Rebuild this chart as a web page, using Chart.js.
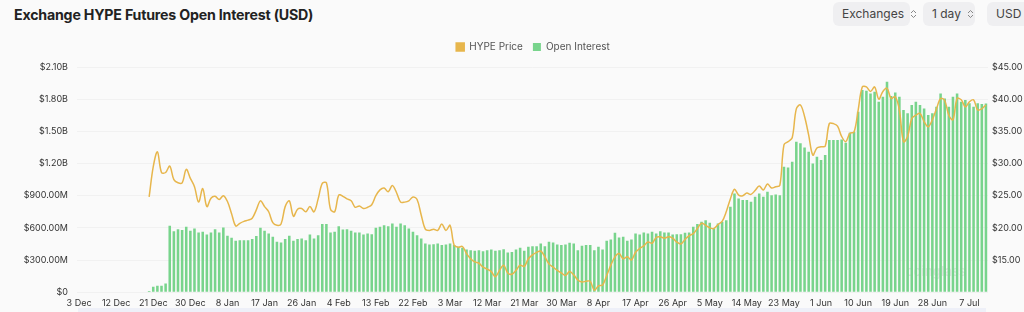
<!DOCTYPE html>
<html>
<head>
<meta charset="utf-8">
<script src="https://cdn.jsdelivr.net/npm/chart.js@4"></script>
<style>
  html, body { margin: 0; padding: 0; background: #fafafa; }
  body { width: 1024px; height: 312px; position: relative; overflow: hidden; font-family: Inter, 'Noto Sans', sans-serif; }
  .titulo { position: absolute; left: 14px; top: 6px; font-size: 14.2px; font-weight: 700; color: #222; letter-spacing: -0.2px; }
  .botao { position: absolute; top: 2px; height: 24px; background: #efeff1; border-radius: 6px; font-size: 12px; color: #444; line-height: 24px; padding-left: 9px; box-sizing: border-box; white-space: nowrap; }
  .botao svg { vertical-align: middle; margin-left: 6px; margin-top: -2px; }
  .faixa { position: absolute; left: 78px; width: 908px; top: 308px; height: 4px; background: #eef0f8; z-index: 2; }
  #wrap { position: absolute; left: 0; top: 32px; width: 1024px; height: 287px; }
</style>
</head>
<body>
<div class="titulo">Exchange HYPE Futures Open Interest (USD)</div>
<div class="botao" style="left:833px;width:77px">Exchanges<svg width="7" height="10" viewBox="0 0 7 10"><path d="M1 4 L3.5 1.5 L6 4 M1 6 L3.5 8.5 L6 6" fill="none" stroke="#888" stroke-width="1"/></svg></div>
<div class="botao" style="left:923px;width:52px">1 day<svg width="7" height="10" viewBox="0 0 7 10"><path d="M1 4 L3.5 1.5 L6 4 M1 6 L3.5 8.5 L6 6" fill="none" stroke="#888" stroke-width="1"/></svg></div>
<div class="botao" style="left:987px;width:50px">USD<svg width="7" height="10" viewBox="0 0 7 10"><path d="M1 4 L3.5 1.5 L6 4 M1 6 L3.5 8.5 L6 6" fill="none" stroke="#888" stroke-width="1"/></svg></div>
<div id="wrap"><canvas id="grafico"></canvas></div>
<div class="faixa"></div>
<script>
// dias de 3 Dec 2024 ate 11 Jul 2025
const DATA_INICIO = new Date(2024, 11, 3);
const TOTAL_DIAS = 221;
const MESES = ['Jan', 'Feb', 'Mar', 'Apr', 'May', 'Jun', 'Jul', 'Aug', 'Sep', 'Oct', 'Nov', 'Dec'];
const PASSO_ROTULO = 9;

// open interest em milhoes de USD
const openInterest = [
  null, null, null, null, null, null, null, null, null, null, null, null, null, null, null, null, null,
  12, 50, 59, 59, 81,
  619, 569, 588, 579, 610, 572, 594, 557, 563, 538,
  557, 588, 557, 604, 526, 507, 479, 485, 485, 485,
  495, 523, 600, 572, 548, 516, 470, 464, 495, 526,
  479, 495, 501, 485, 538, 501, 532, 635, 635, 557,
  563, 616, 585, 588, 572, 557, 557, 538, 548, 541,
  600, 610, 625, 616, 641, 610, 641, 625, 594, 563,
  532, 501, 454, 445, 448, 454,
  439, 445, 454, 439, 423, 414, 398, 392, 386, 392,
  383, 392, 398, 386, 392, 401, 370, 376, 398, 414,
  386, 423, 429, 429, 454, 429, 470, 464, 445, 439,
  445, 460, 454, 392, 432, 439, 439, 392, 423, 398,
  479, 492, 554, 510, 516, 479, 492, 548, 538, 557,
  548, 563, 548, 569, 557, 557, 538, 541, 541, 554,
  557, 610, 635,
  656, 672, 647, 594, 641, 656, 672, 796, 921, 874,
  859, 859, 843, 890, 921, 890, 936, 905, 911, 905,
  1170, 1163, 1216, 1403, 1388, 1350, 1309, 1201, 1263, 1232,
  1279, 1419, 1419, 1419, 1425, 1394, 1487, 1496, 1683, 1885,
  1879, 1854, 1870, 1776, 1823, 1963, 1829, 1863, 1823, 1699,
  1668, 1745, 1776, 1745, 1714, 1652, 1668, 1730, 1854, 1807,
  1730, 1823, 1854, 1776, 1792, 1761, 1730, 1761, 1755, 1760
];

// preco HYPE em USD
const precoHype = [
  null, null, null, null, null, null, null, null, null, null, null, null, null, null, null, null, null,
  24.8, 29.5, 31.8, 28.6, 28.6,
  29.6, 27.5, 27.0, 27.0, 29.1, 27.7, 26.4, 24.0, 26.1, 23.3,
  24.6, 24.9, 24.4, 25.0, 24.1, 22.2, 20.3, 20.7, 21.0, 21.2,
  21.5, 22.8, 24.2, 23.3, 22.5, 20.8, 20.4, 20.6, 23.3, 24.2,
  21.8, 22.9, 23.0, 22.5, 23.3, 22.5, 24.5, 26.9, 27.0, 22.9,
  22.5, 25.1, 24.9, 24.5, 24.2, 23.2, 23.4, 23.0, 23.2, 23.6,
  25.0, 25.9, 26.2, 25.6, 26.6, 25.5, 24.0, 24.0, 24.2, 24.8,
  24.4, 22.0, 19.8, 19.6, 19.8, 19.6,
  20.6, 19.6, 20.4, 17.3, 17.0, 17.1, 16.0, 15.2, 14.7, 14.5,
  13.9, 13.6, 13.2, 12.4, 13.4, 14.2, 13.0, 12.8, 13.4, 14.2,
  14.0, 15.2, 15.8, 16.2, 16.4, 15.5, 14.4, 13.9, 13.4, 13.0,
  12.6, 13.2, 12.7, 11.9, 11.6, 11.7, 11.7, 10.3, 11.0, 11.1,
  12.6, 14.2, 15.5, 16.0, 15.2, 15.5, 15.0, 16.2, 16.8, 17.2,
  17.8, 17.6, 18.5, 18.6, 18.4, 18.6, 18.4, 17.8, 17.5, 18.2,
  18.8, 19.1, 19.9,
  20.7, 20.4, 20.0, 19.9, 20.5, 21.0, 22.5, 24.5, 26.0, 25.1,
  25.0, 25.4, 25.2, 25.8, 26.5, 25.9, 26.8, 26.2, 26.4, 26.6,
  32.9, 33.4, 34.0, 38.5, 39.1, 37.3, 34.4, 31.3, 32.4, 32.6,
  32.7, 36.2, 36.2, 35.8, 34.2, 33.4, 34.7, 34.9, 38.3, 41.9,
  41.9, 41.2, 41.9, 40.0, 41.2, 41.7, 40.1, 40.4, 38.3, 33.4,
  34.2, 37.0, 37.5, 37.8, 36.5, 35.7, 36.8, 38.5, 40.1, 39.8,
  37.5, 36.8, 40.1, 39.9, 38.8, 39.6, 39.9, 38.3, 38.5, 39.1
];

const labels = [];
for (let i = 0; i < TOTAL_DIAS; i++) {
  const d = new Date(DATA_INICIO.getFullYear(), DATA_INICIO.getMonth(), DATA_INICIO.getDate() + i);
  labels.push(d.getDate() + ' ' + MESES[d.getMonth()]);
}

const corTick = '#333';
const fonteTick = { family: 'Inter', size: 9 };

// marca d'agua discreta no canto
const pluginMarca = {
  id: 'marca',
  beforeDatasetsDraw(chart) {
    const { ctx, chartArea } = chart;
    ctx.save();
    ctx.fillStyle = 'rgba(120,120,120,0.16)';
    ctx.font = '600 13px Inter';
    ctx.textBaseline = 'middle';
    ctx.fillText('coinglass', chartArea.right - 82, chartArea.bottom - 20);
    ctx.restore();
  }
};

// espaco extra abaixo da legenda e legenda um pouco para a direita
const pluginAjusteLegenda = {
  id: 'ajusteLegenda',
  beforeInit(chart) {
    const fitOriginal = chart.legend.fit;
    chart.legend.fit = function () {
      fitOriginal.bind(chart.legend)();
      this.height += 5;
    };
  },
  afterLayout(chart) {
    chart.legend.left += 10;
    chart.legend.right += 10;
  }
};

new Chart(document.getElementById('grafico'), {
  type: 'bar',
  data: {
    labels,
    datasets: [
      {
        type: 'line',
        label: 'HYPE Price',
        data: precoHype,
        borderColor: '#e7b64c',
        backgroundColor: '#e7b64c',
        borderWidth: 1.5,
        tension: 0.35,
        pointRadius: 0,
        yAxisID: 'y1',
        order: 0,
      },
      {
        label: 'Open Interest',
        data: openInterest,
        backgroundColor: '#78d48c',
        borderWidth: 0,
        barPercentage: 0.62,
        categoryPercentage: 1,
        yAxisID: 'y',
        order: 1,
      }
    ]
  },
  plugins: [pluginMarca, pluginAjusteLegenda],
  options: {
    responsive: true,
    maintainAspectRatio: false,
    animation: false,
    layout: { padding: { left: 22, right: 0, top: 0, bottom: 4 } },
    plugins: {
      legend: {
        position: 'top',
        labels: {
          boxWidth: 8,
          boxHeight: 8,
          color: '#555',
          font: { family: 'Inter', size: 10 },
          padding: 10,
        }
      },
      tooltip: { enabled: false }
    },
    scales: {
      x: {
        grid: { display: false, drawTicks: false },
        border: { display: false },
        ticks: {
          autoSkip: false,
          maxRotation: 0,
          color: corTick,
          font: fonteTick,
          padding: 6,
          callback(v, i) { return i % PASSO_ROTULO === 0 ? labels[i] : ''; }
        }
      },
      y: {
        position: 'left',
        min: 0,
        max: 2100,
        afterFit(s) { s.width = 55; },
        grid: { color: 'rgba(0,0,0,0.035)', drawTicks: false },
        border: { display: false },
        ticks: {
          stepSize: 300,
          color: corTick,
          font: fonteTick,
          padding: 9,
          callback(v) {
            if (v === 0) return '$0';
            return v >= 1000 ? '$' + (v / 1000).toFixed(2) + 'B' : '$' + v.toFixed(2) + 'M';
          }
        }
      },
      y1: {
        position: 'right',
        min: 10,
        max: 45,
        afterFit(s) { s.width = 36; },
        grid: { drawOnChartArea: false, drawTicks: false },
        border: { display: false },
        ticks: {
          stepSize: 5,
          color: corTick,
          font: fonteTick,
          padding: 4,
          callback(v) { return v === 10 ? '' : '$' + v.toFixed(2); }
        }
      }
    }
  }
});
</script>
</body>
</html>
